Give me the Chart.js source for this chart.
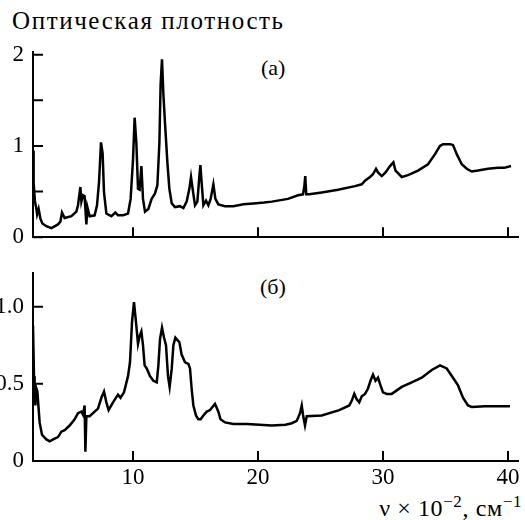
<!DOCTYPE html>
<html>
<head>
<meta charset="utf-8">
<script src="https://cdn.jsdelivr.net/npm/chart.js@4.4.0/dist/chart.umd.min.js"></script>
<style>
  body { margin: 0; width: 525px; height: 520px; overflow: hidden; background: #fff; position: relative; }
  canvas { position: absolute; }
  .txt { position: absolute; font-family: "Liberation Serif", "DejaVu Serif", serif; font-size: 22px; line-height: 22px; color: #000; white-space: nowrap; }
  .txt sup { font-size: 17px; line-height: 0; vertical-align: 9px; }
</style>
</head>
<body>
<div class="txt" style="left:12px; top:8px; font-size:25px; line-height:25px; letter-spacing:1.6px;">Оптическая плотность</div>
<div class="txt" style="left:261px; top:57px;">(a)</div>
<div class="txt" style="left:260px; top:276px;">(б)</div>
<div class="txt" style="right:3px; top:496px; font-size:24px; line-height:24px; letter-spacing:0.6px;">ν × 10<sup>−2</sup>, см<sup>−1</sup></div>

<canvas id="chartA" width="545" height="260" style="left:-20px; top:0;"></canvas>
<canvas id="chartB" width="545" height="270" style="left:-20px; top:250px;"></canvas>

<script>
// spectrum (a)
var wavenumberA = [2.0, 2.05, 2.15, 2.27, 2.33, 2.45, 2.6, 2.75, 3.07, 3.47,
  4.0, 4.19, 4.32, 4.53, 5.07, 5.47, 5.6, 5.79, 5.87, 6.0,
  6.13, 6.19, 6.27, 6.35, 6.53, 6.93, 7.12, 7.28, 7.44, 7.57,
  7.68, 7.87, 8.27, 8.59, 8.8, 9.2, 9.6, 9.81, 10.0, 10.13,
  10.27, 10.4, 10.53, 10.67, 10.8, 10.96, 11.23, 11.49, 11.76, 11.95,
  12.11, 12.21, 12.32, 12.43, 12.56, 12.75, 12.91, 13.1, 13.36, 13.76,
  14.03, 14.29, 14.51, 14.64, 14.77, 14.96, 15.15, 15.31, 15.39, 15.49,
  15.63, 15.84, 16.03, 16.21, 16.43, 16.59, 16.83, 17.36, 18.03, 18.83,
  19.63, 20.5, 21.1, 22.4, 23.2, 23.6, 23.7, 23.78, 23.86, 24.1,
  25.1, 26.4, 27.76, 28.3, 28.56, 28.96, 29.2, 29.44, 29.6, 29.9,
  30.2, 30.56, 30.83, 31.0, 31.5, 32.0, 32.8, 33.6, 34.16, 34.56,
  34.8, 35.36, 35.6, 35.9, 36.3, 36.7, 37.1, 37.6, 38.4, 39.2,
  39.7, 40.24];
var densityA = [0.95, 0.6, 0.4, 0.31, 0.25, 0.31, 0.2, 0.15, 0.12, 0.10,
  0.14, 0.17, 0.27, 0.21, 0.23, 0.28, 0.35, 0.55, 0.39, 0.46,
  0.45, 0.31, 0.14, 0.33, 0.23, 0.24, 0.35, 0.60, 1.04, 0.92,
  0.49, 0.26, 0.23, 0.27, 0.24, 0.24, 0.26, 0.42, 0.85, 1.31,
  1.03, 0.53, 0.52, 0.78, 0.42, 0.28, 0.31, 0.42, 0.48, 0.57,
  1.03, 1.68, 1.95, 1.57, 1.25, 0.82, 0.53, 0.37, 0.33, 0.34,
  0.32, 0.39, 0.53, 0.66, 0.53, 0.35, 0.39, 0.67, 0.79, 0.60,
  0.35, 0.40, 0.35, 0.42, 0.58, 0.42, 0.36, 0.34, 0.34, 0.36,
  0.37, 0.38, 0.39, 0.42, 0.46, 0.47, 0.55, 0.67, 0.47, 0.47,
  0.49, 0.52, 0.56, 0.58, 0.62, 0.66, 0.69, 0.75, 0.71, 0.67,
  0.71, 0.78, 0.82, 0.73, 0.66, 0.68, 0.73, 0.80, 0.91, 1.00,
  1.02, 1.02, 1.01, 0.91, 0.80, 0.75, 0.72, 0.73, 0.75, 0.76,
  0.76, 0.78];

// spectrum (б)
var wavenumberB = [2.0, 2.08, 2.13, 2.19, 2.27, 2.35, 2.45, 2.53, 2.72, 3.07,
  3.33, 3.73, 4.0, 4.27, 4.53, 4.93, 5.33, 5.6, 5.87, 6.0,
  6.13, 6.19, 6.27, 6.53, 6.93, 7.2, 7.47, 7.68, 7.87, 8.05,
  8.4, 8.8, 9.0, 9.28, 9.6, 9.76, 9.92, 10.08, 10.27, 10.4,
  10.53, 10.67, 10.8, 10.93, 11.1, 11.36, 11.63, 11.9, 12.03, 12.16,
  12.32, 12.48, 12.64, 12.8, 12.93, 13.1, 13.23, 13.39, 13.71, 13.89,
  14.16, 14.43, 14.56, 14.69, 14.83, 15.04, 15.23, 15.41, 15.63, 15.9,
  16.16, 16.56, 16.83, 17.0, 17.36, 18.03, 19.1, 20.1, 21.1, 22.2,
  22.7, 23.1, 23.36, 23.5, 23.6, 23.76, 23.9, 25.1, 26.5, 27.3,
  27.5, 27.7, 27.9, 28.1, 28.3, 28.56, 28.8, 29.0, 29.2, 29.4,
  29.6, 29.8, 30.0, 30.3, 30.7, 31.5, 32.3, 33.1, 33.9, 34.56,
  35.1, 35.6, 36.0, 36.4, 36.8, 37.1, 38.16, 39.2, 40.16];
var densityB = [0.88, 0.55, 0.47, 0.36, 0.47, 0.45, 0.34, 0.25, 0.17, 0.14,
  0.127, 0.145, 0.155, 0.19, 0.20, 0.23, 0.27, 0.31, 0.32, 0.30,
  0.36, 0.06, 0.29, 0.29, 0.32, 0.34, 0.41, 0.45, 0.38, 0.33,
  0.38, 0.43, 0.41, 0.445, 0.55, 0.64, 0.90, 1.03, 0.875, 0.76,
  0.81, 0.84, 0.75, 0.62, 0.60, 0.55, 0.52, 0.51, 0.62, 0.79,
  0.865, 0.80, 0.75, 0.55, 0.48, 0.60, 0.75, 0.80, 0.77, 0.69,
  0.64, 0.63, 0.60, 0.47, 0.36, 0.295, 0.27, 0.27, 0.295, 0.32,
  0.33, 0.37, 0.32, 0.27, 0.25, 0.24, 0.24, 0.235, 0.23, 0.235,
  0.245, 0.26, 0.31, 0.36, 0.30, 0.23, 0.29, 0.295, 0.33, 0.36,
  0.39, 0.435, 0.40, 0.38, 0.42, 0.435, 0.47, 0.52, 0.56, 0.52,
  0.54, 0.49, 0.445, 0.435, 0.435, 0.48, 0.51, 0.54, 0.59, 0.62,
  0.60, 0.54, 0.49, 0.41, 0.36, 0.35, 0.355, 0.355, 0.355];

var xTicks = [10, 20, 30, 40];
var yTicksA = [0, 0.5, 1, 1.5, 2];
var yTicksB = [0, 0.5, 1.0];

var FONT = { family: "'Liberation Serif', 'DejaVu Serif', serif", size: 23 };

function points(xs, ys) {
  var out = [];
  for (var i = 0; i < xs.length; i++) out.push({ x: xs[i], y: ys[i] });
  return out;
}

// ticks drawn inward, like the printed figure
var innerTicks = {
  id: 'innerTicks',
  afterDraw: function (chart) {
    var ctx = chart.ctx, a = chart.chartArea, x = chart.scales.x, y = chart.scales.y;
    ctx.save();
    ctx.strokeStyle = '#000';
    ctx.lineWidth = 2;
    ctx.beginPath();
    x.ticks.forEach(function (t) {
      var px = x.getPixelForValue(t.value);
      ctx.moveTo(px, a.bottom);
      ctx.lineTo(px, a.bottom - 10);
    });
    y.ticks.forEach(function (t) {
      var py = y.getPixelForValue(t.value);
      ctx.moveTo(a.left, py);
      ctx.lineTo(a.left + 10, py);
    });
    ctx.stroke();
    ctx.restore();
  }
};

function makeChart(id, data, yMax, yTicks, yLabel, showX, padTop, xHeight) {
  return new Chart(document.getElementById(id), {
    type: 'line',
    data: {
      datasets: [{
        data: data,
        borderColor: '#000',
        borderWidth: 2.5,
        pointRadius: 0,
        tension: 0,
        fill: false
      }]
    },
    options: {
      responsive: false,
      animation: false,
      events: [],
      layout: { padding: { left: 0, right: 7, top: padTop, bottom: 0 } },
      plugins: { legend: { display: false }, tooltip: { enabled: false } },
      scales: {
        x: {
          type: 'linear',
          min: 2,
          max: 40.8,
          grid: { display: false, drawTicks: false },
          border: { display: true, color: '#000', width: 2 },
          ticks: { display: showX, color: '#000', font: FONT, padding: 3, autoSkip: false, maxRotation: 0 },
          afterBuildTicks: function (s) { s.ticks = xTicks.map(function (v) { return { value: v }; }); },
          afterFit: function (s) { s.height = xHeight; }
        },
        y: {
          type: 'linear',
          min: 0,
          max: yMax,
          grid: { display: false, drawTicks: false },
          border: { display: true, color: '#000', width: 2 },
          ticks: { color: '#000', font: FONT, padding: 9, autoSkip: false, callback: yLabel },
          afterBuildTicks: function (s) { s.ticks = yTicks.map(function (v) { return { value: v }; }); },
          afterFit: function (s) { s.width = 53; }
        }
      }
    },
    plugins: [innerTicks]
  });
}

makeChart('chartA', points(wavenumberA, densityA), 2.03, yTicksA,
  function (v) { return Number.isInteger(v) ? String(v) : ''; }, false, 52, 19);

makeChart('chartB', points(wavenumberB, densityB), 1.22, yTicksB,
  function (v) { return v === 0 ? '0' : v.toFixed(1); }, true, 22, 59);
</script>
</body>
</html>
